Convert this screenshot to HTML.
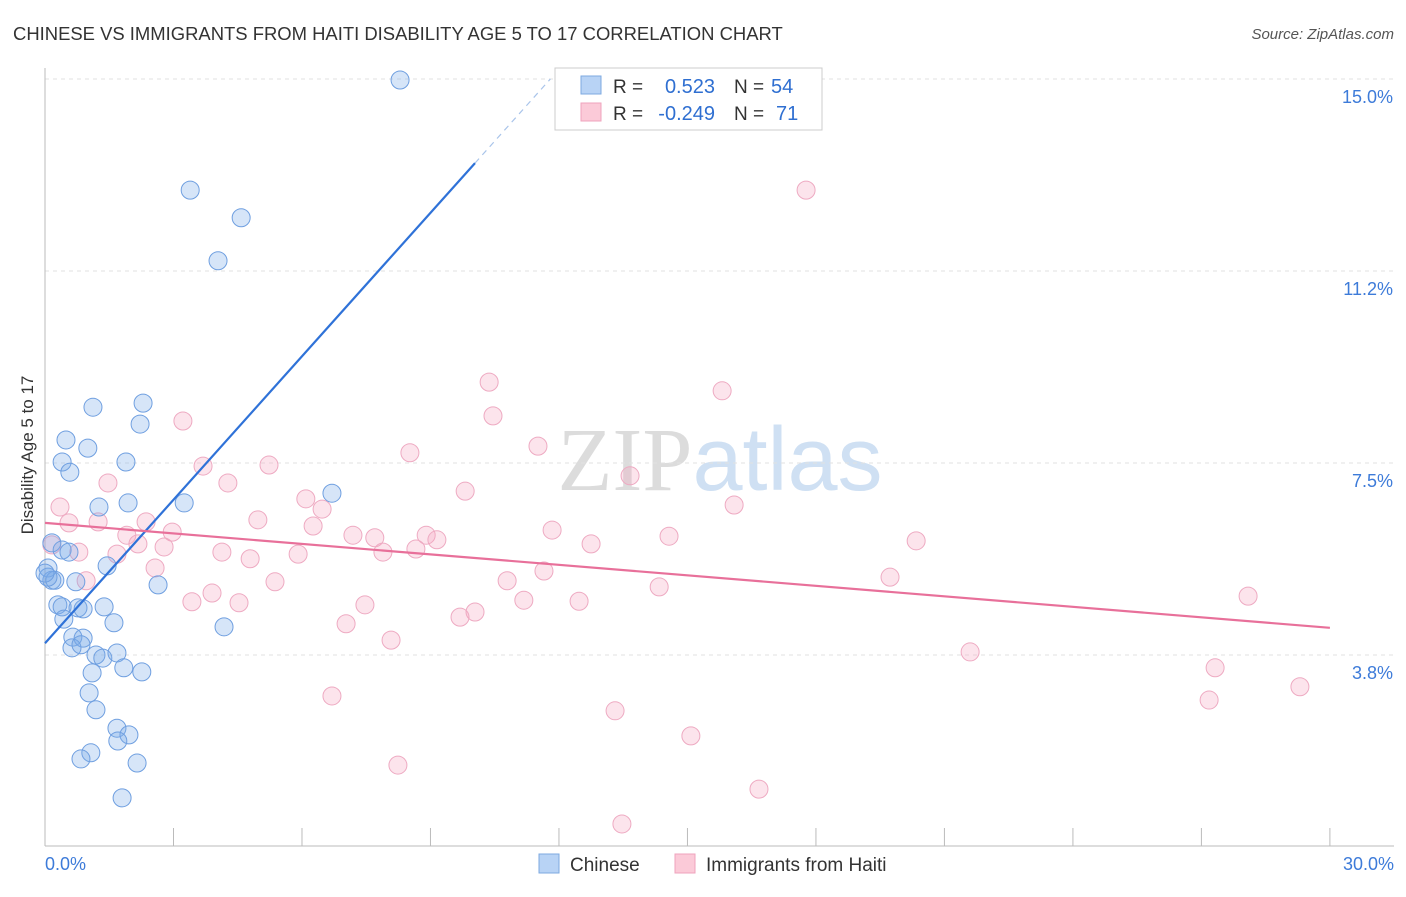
<!DOCTYPE html>
<html><head><meta charset="utf-8"><style>
body{margin:0;background:#fff;font-family:"Liberation Sans",sans-serif;}
svg text{font-family:"Liberation Sans",sans-serif;}
</style></head><body>
<svg id="chart" width="1406" height="892" xmlns="http://www.w3.org/2000/svg">
<text x="13" y="40" font-size="18.45" fill="#333">CHINESE VS IMMIGRANTS FROM HAITI DISABILITY AGE 5 TO 17 CORRELATION CHART</text>
<text x="1394" y="39" font-size="15" fill="#555" text-anchor="end" font-style="italic">Source: ZipAtlas.com</text>
<text x="720" y="490" font-size="90" text-anchor="middle"><tspan fill="#dcdcdc" font-family="Liberation Serif">ZIP</tspan><tspan fill="#cfe0f3">atlas</tspan></text>
<g id="grid"></g><g id="axes"></g><g id="pts"></g><g id="lines"></g>
<text transform="translate(33,455) rotate(-90)" font-size="17" fill="#333" text-anchor="middle">Disability Age 5 to 17</text>
<g>
<rect x="555" y="68" width="267" height="62" fill="#fff" stroke="#ccc"/>
<rect x="581" y="76" width="20" height="18" fill="#b8d3f5" stroke="#7ea9e0"/>
<rect x="581" y="103" width="20" height="18" fill="#fbcad8" stroke="#efa3bd"/>
<text x="613" y="93" font-size="19" fill="#333">R =</text>
<text x="715" y="93" font-size="20" fill="#2f6fd1" text-anchor="end">0.523</text>
<text x="734" y="93" font-size="19" fill="#333">N =</text>
<text x="771" y="93" font-size="20" fill="#2f6fd1">54</text>
<text x="613" y="120" font-size="19" fill="#333">R =</text>
<text x="715" y="120" font-size="20" fill="#2f6fd1" text-anchor="end">-0.249</text>
<text x="734" y="120" font-size="19" fill="#333">N =</text>
<text x="776" y="120" font-size="20" fill="#2f6fd1">71</text>
</g>
<g>
<rect x="539" y="854" width="20" height="19" fill="#b8d3f5" stroke="#7ea9e0"/>
<text x="570" y="871" font-size="19" fill="#333">Chinese</text>
<rect x="675" y="854" width="20" height="19" fill="#fbcad8" stroke="#efa3bd"/>
<text x="706" y="871" font-size="19" fill="#333">Immigrants from Haiti</text>
</g>
</svg>
<script>
const yTicks=[3.75,7.5,11.25,15];
const yTickLabels=["3.8%","7.5%","11.2%","15.0%"];
const chineseX=[8.29,3.39,4.58,4.04,1.12,2.29,2.22,0.49,1.00,1.89,0.40,0.58,6.70,3.25,1.94,1.26,0.16,0.40,0.56,1.45,0.07,0.16,0.23,0.07,0.72,2.64,0.30,0.40,0.77,0.89,1.38,0.44,1.61,4.18,0.65,0.89,0.63,0.84,1.19,1.35,1.68,1.84,2.26,1.10,1.03,1.19,1.68,1.96,1.70,1.07,0.84,2.15,1.80,0];
const chineseY=[14.98,12.83,12.29,11.45,8.59,8.67,8.26,7.95,7.79,7.52,7.52,7.32,6.91,6.72,6.72,6.64,5.94,5.80,5.76,5.49,5.45,5.21,5.21,5.27,5.18,5.12,4.73,4.69,4.67,4.65,4.69,4.45,4.38,4.30,4.10,4.08,3.89,3.95,3.75,3.69,3.79,3.50,3.42,3.40,3.01,2.68,2.32,2.19,2.07,1.84,1.72,1.64,0.96,5.35];
const haitiX=[17.77,10.37,15.81,10.46,3.22,11.51,8.52,3.69,5.23,13.66,1.47,4.27,9.81,6.09,0.35,16.09,6.47,4.97,2.36,0.56,1.24,6.26,11.84,2.97,1.91,7.19,8.90,7.70,9.15,14.57,20.34,2.17,12.75,2.78,0.16,0.79,4.13,5.91,1.68,8.66,7.89,4.79,2.57,11.65,0.96,10.79,5.37,19.73,3.90,14.34,28.09,3.43,4.53,11.18,12.47,7.47,10.04,9.69,7.03,8.08,21.60,27.32,29.30,6.70,27.18,13.31,15.08,8.24,16.67,13.47];
const haitiY=[12.83,9.08,8.91,8.42,8.32,7.83,7.70,7.44,7.46,7.25,7.11,7.11,6.95,6.80,6.64,6.68,6.60,6.39,6.35,6.33,6.35,6.27,6.19,6.15,6.09,6.09,6.09,6.04,6.00,6.07,5.98,5.92,5.92,5.86,5.90,5.76,5.76,5.72,5.72,5.82,5.76,5.63,5.45,5.39,5.20,5.20,5.18,5.27,4.96,5.08,4.90,4.79,4.77,4.82,4.80,4.73,4.59,4.49,4.36,4.04,3.81,3.50,3.13,2.95,2.87,2.66,2.17,1.60,1.13,0.45];
const chineseTrend=[3.98,0.934];
const haitiTrend=[6.33,-0.0683];
const NS="http://www.w3.org/2000/svg";
const X=v=>45+v*42.83, Y=v=>847-v*51.2;
function mk(tag,attrs,parent){const e=document.createElementNS(NS,tag);for(const k in attrs)e.setAttribute(k,attrs[k]);document.getElementById(parent).appendChild(e);return e;}
yTicks.forEach((t,i)=>{
 const g=mk('line',{x1:45,x2:1394,y1:Y(t),y2:Y(t),stroke:'#e2e2e2','stroke-dasharray':'4,4'},'grid');
 
 
 const l=mk('text',{x:1393,y:Y(t)+24,'font-size':18,fill:'#3d7bd9','text-anchor':'end'},'grid');
 l.textContent=yTickLabels[i];
 
 
});
const ax=mk('line',{x1:45,x2:45,y1:68,y2:846,stroke:'#bbb'},'axes');


const bx=mk('line',{x1:45,x2:1394,y1:846,y2:846,stroke:'#bbb'},'axes');


for(let i=1;i<=10;i++){const t=mk('line',{x1:X(i*3),x2:X(i*3),y1:828,y2:846,stroke:'#bbb'},'axes');
 
 }
[[0,"0.0%",'start',45],[30,"30.0%",'end',1394]].forEach(a=>{const t=mk('text',{x:a[3],y:870,'font-size':18,fill:'#3d7bd9','text-anchor':a[2]},'axes');t.textContent=a[1];
 
 });
function pts(xs,ys,fill,stroke,name){xs.forEach((x,i)=>{const c=mk('circle',{cx:X(x),cy:Y(ys[i]),r:9,fill:fill,stroke:stroke,'stroke-width':1},'pts');
 
 });}
pts(haitiX,haitiY,'rgba(244,165,192,0.3)','#eeaac2','haiti-point');
pts(chineseX,chineseY,'rgba(120,170,232,0.3)','#6f9fe0','chinese-point');
const bl=mk('line',{x1:X(0),y1:Y(chineseTrend[0]),x2:X(10.04),y2:Y(chineseTrend[0]+chineseTrend[1]*10.04),stroke:'#2f72d8','stroke-width':2.2},'lines');


const bd=mk('line',{x1:X(10.04),y1:Y(chineseTrend[0]+chineseTrend[1]*10.04),x2:X(11.8),y2:Y(chineseTrend[0]+chineseTrend[1]*11.8),stroke:'#a9c4ea','stroke-width':1.2,'stroke-dasharray':'6,5'},'lines');


const pl=mk('line',{x1:X(0),y1:Y(haitiTrend[0]),x2:X(30),y2:Y(haitiTrend[0]+haitiTrend[1]*30),stroke:'#e8709a','stroke-width':2.2},'lines');


</script>
</body></html>
